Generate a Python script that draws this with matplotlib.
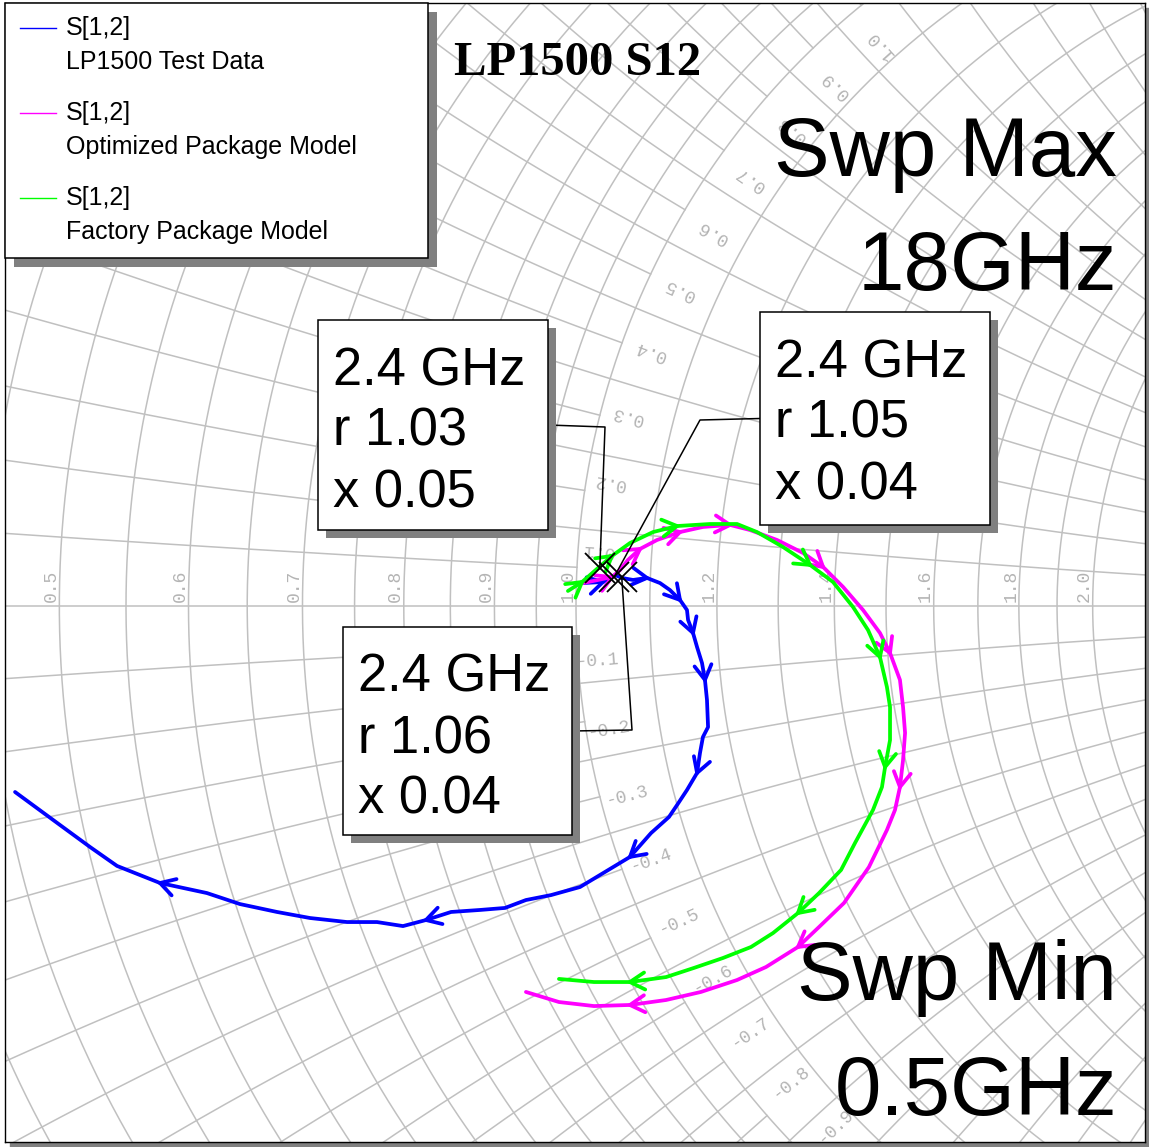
import numpy as np
import matplotlib
matplotlib.use('Agg')
from matplotlib import pyplot as plt
from matplotlib.patches import Rectangle

test_re = [0.0045, 0.0174, 0.0252, 0.0297, 0.0368, 0.0458, 0.0542, 0.0606, 0.0671, 0.0716,
           0.0723, 0.0755, 0.0781, 0.0813, 0.0832, 0.0845, 0.0852, 0.0819, 0.0800, 0.0781,
           0.0716, 0.0652, 0.0600, 0.0484, 0.0348, 0.0187, 0.0026, -0.0161, -0.0323, -0.0458,
           -0.0619, -0.0806, -0.0968, -0.1116, -0.1284, -0.1477, -0.1716, -0.1929, -0.2168, -0.2381,
           -0.2684, -0.2961, -0.3135, -0.3329, -0.3619]
test_im = [0.0148, 0.0155, 0.0200, 0.0181, 0.0168, 0.0181, 0.0148, 0.0103, 0.0039, -0.0026,
           -0.0090, -0.0174, -0.0265, -0.0368, -0.0477, -0.0606, -0.0781, -0.0845, -0.0948, -0.1077,
           -0.1187, -0.1284, -0.1361, -0.1465, -0.1619, -0.1716, -0.1813, -0.1865, -0.1897, -0.1948,
           -0.1961, -0.1974, -0.2026, -0.2065, -0.2039, -0.2039, -0.2013, -0.1974, -0.1923, -0.1852,
           -0.1787, -0.1677, -0.1555, -0.1413, -0.1200]

opt_re = [0.0045, 0.0142, 0.0232, 0.0284, 0.0335, 0.0413, 0.0523, 0.0671, 0.0819, 0.0994,
          0.1123, 0.1297, 0.1465, 0.1594, 0.1723, 0.1852, 0.1961, 0.2026, 0.2090, 0.2110,
          0.2123, 0.2110, 0.2090, 0.2058, 0.2006, 0.1890, 0.1729, 0.1568, 0.1432, 0.1226,
          0.1039, 0.0806, 0.0581, 0.0348, 0.0116, -0.0110, -0.0323]
opt_im = [0.0148, 0.0168, 0.0187, 0.0232, 0.0297, 0.0368, 0.0426, 0.0477, 0.0510, 0.0523,
          0.0490, 0.0426, 0.0342, 0.0252, 0.0123, -0.0026, -0.0174, -0.0303, -0.0477, -0.0652,
          -0.0819, -0.0994, -0.1168, -0.1316, -0.1445, -0.1684, -0.1916, -0.2071, -0.2200, -0.2329,
          -0.2413, -0.2490, -0.2542, -0.2574, -0.2581, -0.2555, -0.2490]

fac_re = [-0.0052, 0.0039, 0.0135, 0.0232, 0.0348, 0.0497, 0.0652, 0.0865, 0.1039, 0.1168,
          0.1335, 0.1510, 0.1658, 0.1787, 0.1884, 0.1961, 0.2006, 0.2026, 0.2026, 0.1994,
          0.1974, 0.1916, 0.1800, 0.1710, 0.1568, 0.1432, 0.1271, 0.1129, 0.0948, 0.0761,
          0.0581, 0.0348, 0.0116, -0.0110]
fac_im = [0.0097, 0.0155, 0.0239, 0.0323, 0.0406, 0.0477, 0.0516, 0.0529, 0.0529, 0.0477,
          0.0381, 0.0265, 0.0155, -0.0006, -0.0155, -0.0329, -0.0523, -0.0652, -0.0865, -0.1039,
          -0.1168, -0.1316, -0.1529, -0.1703, -0.1852, -0.1981, -0.2110, -0.2200, -0.2271, -0.2335,
          -0.2394, -0.2426, -0.2426, -0.2406]

series_names = ['LP1500 Test Data', 'Optimized Package Model', 'Factory Package Model']
series_colors = ['#0000ff', '#ff00ff', '#00ff00']
# where the direction arrows sit on each trace
arrow_idx = [[1, 5, 8, 11, 14, 19, 24, 32, 40],
             [2, 5, 7, 9, 13, 17, 22, 28, 33],
             [1, 3, 6, 11, 15, 19, 25, 31]]

# 2.4 GHz markers (normalised impedance): factory, optimized, test
mk_freq = '2.4 GHz'
mk_r = [1.03, 1.05, 1.06]
mk_x = [0.05, 0.04, 0.04]

r_grid = list(np.round(np.arange(0.2, 1.0001, 0.05), 2)) + list(np.round(np.arange(1.1, 2.001, 0.1), 2))
x_pos = list(np.round(np.arange(0.05, 1.0001, 0.05), 2)) + list(np.round(np.arange(1.1, 2.001, 0.1), 2))
x_grid = x_pos + [-v for v in x_pos]
r_labels = [0.5, 0.6, 0.7, 0.8, 0.9, 1.0, 1.2, 1.4, 1.6, 1.8, 2.0]
x_labels = [0.1, 0.2, 0.3, 0.4, 0.5, 0.6, 0.7, 0.8, 0.9, 1.0, 1.2,
            -0.1, -0.2, -0.3, -0.4, -0.5, -0.6, -0.7, -0.8, -0.9, -1.0]

# ---- layout (pixels) ----
W, H = 1149, 1147
FL, FR, FT, FB = 5, 1145, 3, 1142
CX, CY, SCALE = 576, 606, 1550.0
GRID = '#c0c0c0'


def gamma(z):
    return (z - 1) / (z + 1)


def P(u, v):
    return ((u - CX) / SCALE, (CY - v) / SCALE)


fig = plt.figure(figsize=(W / 100, H / 100), dpi=100)
fig.patches.append(Rectangle(((FL + 5) / W, 1 - (FB + 5) / H), (FR - FL) / W, (FB - FT) / H,
                             transform=fig.transFigure, color='#808080', zorder=-5))
ax = fig.add_axes([FL / W, 1 - FB / H, (FR - FL) / W, (FB - FT) / H])
ax.set_xlim((FL - CX) / SCALE, (FR - CX) / SCALE)
ax.set_ylim((CY - FB) / SCALE, (CY - FT) / SCALE)
ax.set_xticks([])
ax.set_yticks([])
for s in ax.spines.values():
    s.set_color('black')
    s.set_linewidth(1.0)

# smith grid: fine reactance arcs (odd multiples of 0.05) stop at r = 1
xs = np.linspace(-5, 5, 5001)
for r in r_grid:
    g = gamma(r + 1j * xs)
    ax.plot(g.real, g.imag, color=GRID, lw=1.1, zorder=1)
for x in x_grid:
    fine = abs(x) < 1.0001 and round(abs(x) / 0.05) % 2 == 1
    rs = np.linspace(0.05, 1.0 if fine else 6, 3001)
    g = gamma(rs + 1j * x)
    ax.plot(g.real, g.imag, color=GRID, lw=1.1, zorder=1)
ax.axhline(0, color=GRID, lw=1.1, zorder=1)

lab_kw = dict(family='Liberation Mono', fontsize=13, color='#b4b4b4', ha='center', va='center',
              rotation_mode='anchor', zorder=2, clip_on=True)
for rv in r_labels:
    g = gamma(rv)
    ax.text(g.real - 8 / SCALE, 20 / SCALE, f'{rv:.1f}', rotation=90, **lab_kw)
for xv in x_labels:
    a = abs(xv)
    rl = 1.02 + 0.05 * a
    xl = np.sign(xv) * (a - (0.018 + 0.09 * a - 0.04 * a ** 2))
    g = gamma(rl + 1j * xl)
    dg = gamma(rl + 0.01 + 1j * xl) - gamma(rl - 0.01 + 1j * xl)
    ang = np.degrees(np.arctan2(dg.imag, dg.real))
    if xv > 0:
        ang += 180
    ax.text(g.real, g.imag, f'{xv:.1f}', rotation=ang, **lab_kw)

# traces with direction arrows
traces = [(test_re, test_im), (opt_re, opt_im), (fac_re, fac_im)]
for (re, im), col, idx in zip(traces, series_colors, arrow_idx):
    re = np.asarray(re)
    im = np.asarray(im)
    ax.plot(re, im, color=col, lw=2.7, solid_joinstyle='round', solid_capstyle='round', zorder=3)
    for i in idx:
        d = np.array([re[i + 1] - re[i - 1], im[i + 1] - im[i - 1]])
        d /= np.hypot(*d)
        for s in (1, -1):
            t = np.radians(150 * s)
            w = np.array([d[0] * np.cos(t) - d[1] * np.sin(t),
                          d[0] * np.sin(t) + d[1] * np.cos(t)]) * 17 / SCALE
            ax.plot([re[i], re[i] + w[0]], [im[i], im[i] + w[1]], color=col, lw=2.7,
                    solid_capstyle='round', zorder=3)

# markers
gm = gamma(np.array(mk_r) + 1j * np.array(mk_x))
ax.plot(gm.real, gm.imag, 'x', color='black', ms=21, mew=1.3, zorder=5)

# marker boxes: (left, top, right, bottom), leader side, bend point
boxes = [((318, 320, 548, 530), 'right', (605, 427)),
         ((760, 312, 990, 525), 'left', (700, 420)),
         ((343, 627, 572, 835), 'right', (632, 730))]
for k, ((x0, y0, x1, y1), side, bend) in enumerate(boxes):
    ym = (y0 + y1) / 2
    ex = x1 if side == 'right' else x0
    p0 = P(ex, ym)
    p1 = P(*bend)
    ax.plot([p0[0], p1[0], gm[k].real], [p0[1], p1[1], gm[k].imag], color='black', lw=1.1, zorder=6)
    ax.add_patch(Rectangle(P(x0 + 8, y1 + 8), (x1 - x0) / SCALE, (y1 - y0) / SCALE,
                           facecolor='#808080', edgecolor='none', zorder=6.5))
    ax.add_patch(Rectangle(P(x0, y1), (x1 - x0) / SCALE, (y1 - y0) / SCALE,
                           facecolor='white', edgecolor='black', lw=1.1, zorder=7))
    lines = [mk_freq, f'r {mk_r[k]:.2f}', f'x {mk_x[k]:.2f}']
    for j, s in enumerate(lines):
        ax.text(*P(x0 + 15, y0 + 65 + 61 * j), s, family='Liberation Sans', fontsize=37.8,
                ha='left', va='baseline', zorder=8)

# legend
lx0, ly0, lx1, ly1 = FL, FT, 428, 258
ax.add_patch(Rectangle(P(lx0 + 9, ly1 + 9), (lx1 - lx0) / SCALE, (ly1 - ly0) / SCALE,
                       facecolor='#808080', edgecolor='none', zorder=6.5, clip_on=False))
ax.add_patch(Rectangle(P(lx0, ly1), (lx1 - lx0) / SCALE, (ly1 - ly0) / SCALE,
                       facecolor='white', edgecolor='black', lw=1.1, zorder=7, clip_on=False))
for j, (name, col) in enumerate(zip(series_names, series_colors)):
    yy = 28 + 85 * j
    a = P(20, yy)
    b = P(56, yy)
    ax.plot([a[0], b[0]], [a[1], b[1]], color=col, lw=1.0, zorder=8)
    ax.text(*P(66, yy), 'S[1,2]', family='Liberation Sans', fontsize=18, ha='left', va='center', zorder=8)
    ax.text(*P(66, yy + 34), name, family='Liberation Sans', fontsize=18, ha='left', va='center', zorder=8)

# titles / sweep notes
ax.text(*P(578, 75), 'LP1500 S12', family='Liberation Serif', weight='bold', fontsize=35,
        ha='center', va='baseline', zorder=8)
for txt, yb in [('Swp Max', 176), ('18GHz', 290), ('Swp Min', 1000), ('0.5GHz', 1115)]:
    ax.text(*P(1117, yb), txt, family='Liberation Sans', fontsize=60, ha='right', va='baseline', zorder=8)

fig.savefig('out.png', dpi=100)
